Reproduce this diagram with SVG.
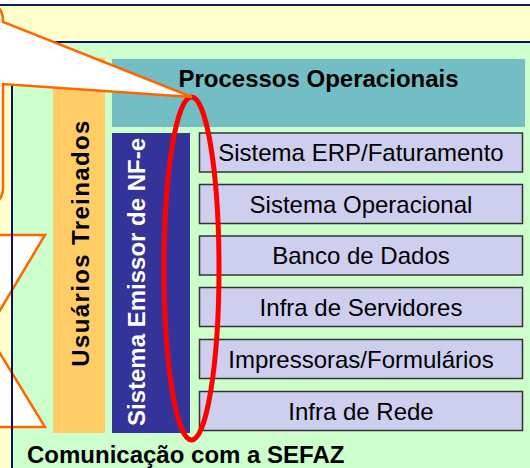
<svg xmlns="http://www.w3.org/2000/svg" width="530" height="468" viewBox="0 0 530 468">
<style>
  .b { font-family: "Liberation Sans", Arial, sans-serif; font-weight: bold; font-size: 24px; }
  .r { font-family: "Liberation Sans", Arial, sans-serif; font-size: 24px; fill: #000; }
  .box { fill: #CECEEE; stroke: #333333; stroke-width: 1.5; }
  .callout { fill: #FFFFFF; stroke: #FF6600; stroke-width: 2.5; stroke-linejoin: miter; }
</style>
<rect x="0" y="0" width="530" height="468" fill="#FFFFFF"/>
<g id="frame-outer">
  <rect x="-10" y="5" width="560" height="480" fill="#FFFFCC" stroke="#0D1F5C" stroke-width="2"/>
</g>
<g id="frame-inner-fill">
  <rect x="12" y="42" width="540" height="440" fill="#CCFFCC"/>
</g>
<g id="callout-star">
  <polygon class="callout" points="-60,235 45,235 -13,332 45,427 -60,427"/>
</g>
<g id="frame-inner">
  <rect x="12" y="42" width="540" height="440" fill="none" stroke="#0D1060" stroke-width="2"/>
  <text class="b" x="27" y="463" fill="#000">Comunicação com a SEFAZ</text>
</g>
<g id="usuarios">
  <rect x="53" y="58" width="52" height="375" fill="#FFCC66"/>
  <text class="b" transform="translate(88.5,243.7) rotate(-90)" text-anchor="middle" fill="#000" textLength="246" lengthAdjust="spacing">Usuários Treinados</text>
</g>
<g id="processos">
  <rect x="112" y="59" width="413" height="68" fill="#72BEC4"/>
  <text class="b" x="318.5" y="87" text-anchor="middle" fill="#000">Processos Operacionais</text>
</g>
<g id="emissor">
  <rect x="112" y="133" width="78" height="300" fill="#333399"/>
  <text class="b" transform="translate(145,282) rotate(-90)" text-anchor="middle" fill="#FFFFFF">Sistema Emissor de NF-e</text>
</g>
<g id="erp">
  <rect class="box" x="199.5" y="133" width="323" height="39"/>
  <text class="r" x="361" y="161" text-anchor="middle">Sistema ERP/Faturamento</text>
</g>
<g id="so">
  <rect class="box" x="199.5" y="184.5" width="323" height="39"/>
  <text class="r" x="361" y="212.5" text-anchor="middle">Sistema Operacional</text>
</g>
<g id="bd">
  <rect class="box" x="199.5" y="236" width="323" height="39"/>
  <text class="r" x="361" y="264" text-anchor="middle">Banco de Dados</text>
</g>
<g id="servidores">
  <rect class="box" x="199.5" y="287.5" width="323" height="39"/>
  <text class="r" x="361" y="315.5" text-anchor="middle">Infra de Servidores</text>
</g>
<g id="impressoras">
  <rect class="box" x="199.5" y="339.5" width="323" height="39"/>
  <text class="r" x="361" y="367.5" text-anchor="middle">Impressoras/Formulários</text>
</g>
<g id="rede">
  <rect class="box" x="199.5" y="391.5" width="323" height="39"/>
  <text class="r" x="361" y="419.5" text-anchor="middle">Infra de Rede</text>
</g>
<g id="connectors">
  <ellipse cx="191.5" cy="268.5" rx="27.5" ry="171.5" fill="none" stroke="#FF0000" stroke-width="5"/>
  <path class="callout" d="M -100,0 H -17 A 20 20 0 0 1 3,20 V 22 L 192,97 L 3,84 V 188 A 20 20 0 0 1 -17,208 H -100 Z"/>
</g>
</svg>
